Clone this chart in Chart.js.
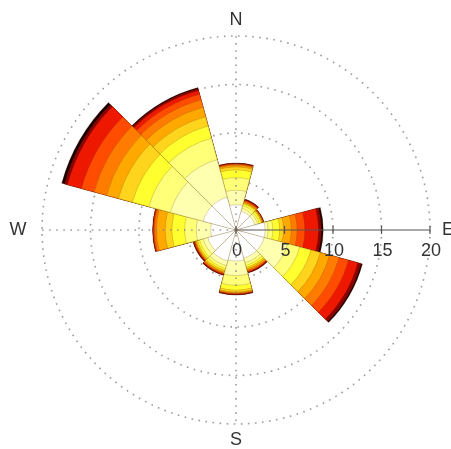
<!DOCTYPE html>
<html>
<head>
<meta charset="utf-8">
<script src="https://cdn.jsdelivr.net/npm/chart.js@4.4.1/dist/chart.umd.min.js"></script>
<style>
  html, body { margin: 0; padding: 0; background: #fff; }
  #wrap { width: 451px; height: 449px; }
</style>
</head>
<body>
<div id="wrap"><canvas id="rose" width="451" height="449"></canvas></div>
<script>
// directions, clockwise from north, 30 deg sectors
const directions = ["N", "30", "60", "E", "120", "150", "S", "210", "240", "W", "300", "330"];

// frequency (%) per speed class, one value per direction
const class0 = [2.6, 2.0, 2.0, 3.0, 3.0, 3.0, 3.2, 3.3, 3.0, 2.6, 3.5, 3.5];
const class1 = [1.5, 0.3, 0.3, 0.3, 2.5, 0.5, 1.5, 0.5, 0.5, 1.5, 3.5, 4.0];
const class2 = [1.3, 0.3, 0.2, 0.5, 1.3, 0.3, 1.0, 0.3, 0.4, 1.2, 2.3, 2.3];
const class3 = [0.8, 0.2, 0.2, 0.7, 1.2, 0.2, 0.5, 0.2, 0.2, 1.3, 1.75, 1.3];
const class4 = [0.3, 0.1, 0.1, 0.4, 1.0, 0.15, 0.2, 0.15, 0.15, 0.7, 1.5, 1.0];
const class5 = [0.15, 0.1, 0.05, 0.8, 1.0, 0.15, 0.1, 0.1, 0.1, 0.9, 1.25, 1.0];
const class6 = [0.1, 0.1, 0.05, 0.6, 1.0, 0.1, 0.05, 0.1, 0.05, 0.2, 1.35, 0.8];
const class7 = [0.05, 0.05, 0.03, 0.8, 1.0, 0.05, 0.05, 0.05, 0.05, 0.1, 1.35, 0.6];
const class8 = [0, 0.05, 0.02, 1.4, 1.0, 0.05, 0, 0.05, 0.05, 0.05, 1.5, 0.4];
const class9 = [0.1, 0.1, 0.05, 0.3, 0.35, 0.1, 0.1, 0.1, 0.1, 0.05, 0.3, 0.2];
const class10 = [0, 0, 0, 0.2, 0.15, 0, 0, 0, 0, 0, 0.3, 0.1];

const classColors = ["#ffffff", "#ffffb0", "#ffff78", "#ffff30", "#ffd41c", "#ffa800",
                     "#ff7c00", "#ff4c00", "#ee1800", "#8c0000", "#1c0000"];

const radialTicks = [0, 5, 10, 15, 20];
const compassLabels = ["N", "E", "S", "W"];

const classes = [class0, class1, class2, class3, class4, class5, class6, class7, class8, class9, class10];

// polar area can't stack, so each dataset is the running total up to its class
// (dataset 0 is drawn on top, so smallest total first)
let running = directions.map(() => 0);
const datasets = classes.map((vals, i) => {
  running = running.map((v, j) => v + vals[j]);
  return {
    label: "class " + i,
    data: running.slice(),
    backgroundColor: classColors[i],
    borderColor: "rgba(90,50,0,0.35)",
    borderWidth: 0.6,
  };
});

const roseDecor = {
  id: "roseDecor",
  afterDatasetsDraw(chart) {
    const r = chart.scales.r;
    const ctx = chart.ctx;
    const cx = r.xCenter, cy = r.yCenter;
    const R = r.getDistanceFromCenterForValue(20);

    ctx.save();
    // dotted N-S and W axes
    ctx.strokeStyle = "rgba(130,130,130,0.8)";
    ctx.lineWidth = 1.6;
    ctx.setLineDash([1.6, 5.5]);
    ctx.beginPath();
    ctx.moveTo(cx, cy - R);
    ctx.lineTo(cx, cy + R);
    ctx.moveTo(cx - R, cy);
    ctx.lineTo(cx, cy);
    ctx.stroke();

    // solid east axis with ticks
    ctx.setLineDash([]);
    ctx.strokeStyle = "#555";
    ctx.lineWidth = 1.2;
    ctx.beginPath();
    ctx.moveTo(cx, cy);
    ctx.lineTo(cx + R, cy);
    radialTicks.forEach((t) => {
      const x = cx + r.getDistanceFromCenterForValue(t);
      ctx.moveTo(x, cy - 4);
      ctx.lineTo(x, cy + 4);
    });
    ctx.stroke();

    ctx.fillStyle = "#333";
    ctx.font = "18px 'Liberation Sans', Arial, sans-serif";
    ctx.textAlign = "center";
    ctx.textBaseline = "middle";
    radialTicks.forEach((t) => {
      const x = cx + r.getDistanceFromCenterForValue(t);
      ctx.fillText(String(t), x + 1, cy + 21);
    });

    const off = [[0, -210], [212, 0], [0, 210], [-218, 0]];
    compassLabels.forEach((lab, i) => {
      ctx.fillText(lab, cx + off[i][0], cy + off[i][1]);
    });
    ctx.restore();
  },
};

new Chart(document.getElementById("rose"), {
  type: "polarArea",
  data: { labels: directions, datasets: datasets },
  options: {
    responsive: false,
    animation: false,
    layout: { padding: { left: 42, right: 21, top: 36, bottom: 25 } },
    plugins: { legend: { display: false }, tooltip: { enabled: false } },
    scales: {
      r: {
        min: 0,
        max: 20,
        startAngle: -15,
        z: 1,
        ticks: { display: false, stepSize: 5 },
        pointLabels: { display: false },
        angleLines: { display: false },
        grid: { circular: true, color: "rgba(130,130,130,0.8)", lineWidth: 1.6 },
        border: { dash: [1.6, 5.5] },
      },
    },
  },
  plugins: [roseDecor],
});
</script>
</body>
</html>
